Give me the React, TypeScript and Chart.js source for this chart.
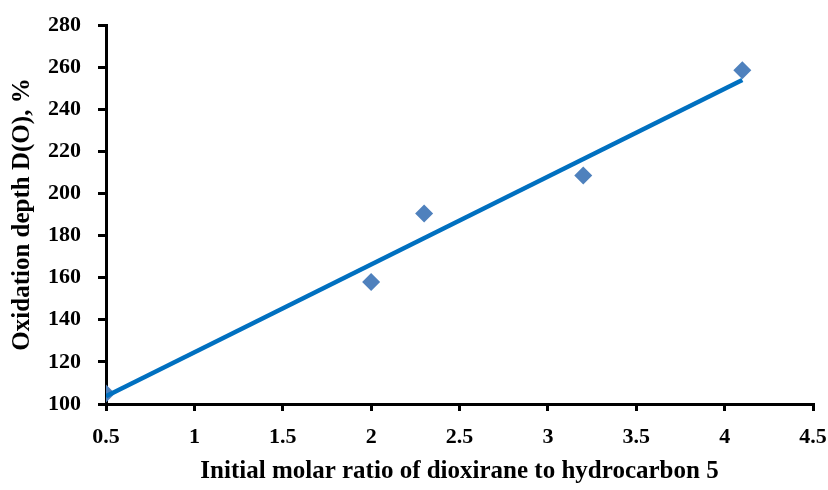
import React, { useEffect, useRef } from "react";
import { Chart, registerables } from "chart.js";

Chart.register(...registerables);

const ratioX = [0.5, 2.0, 2.3, 3.2, 4.1];
const depthY = [105, 158, 190.5, 208.5, 258.5];
const trendX = [0.5, 4.1];
const trendY = [103.7, 253.9];
const xTicks = [0.5, 1, 1.5, 2, 2.5, 3, 3.5, 4, 4.5];
const yTicks = [100, 120, 140, 160, 180, 200, 220, 240, 260, 280];

const xTitle = "Initial molar ratio of dioxirane to hydrocarbon 5";
const yTitle = "Oxidation depth D(O), %";

const FONT = "'Liberation Serif', 'DejaVu Serif', serif";

export default function App() {
  const ref = useRef<HTMLCanvasElement | null>(null);
  useEffect(() => {
    document.body.style.margin = "0";
    const canvas = ref.current!;
    const chart = new Chart(canvas, {
      type: "scatter",
      data: {
        datasets: [
          {
            type: "line",
            data: trendX.map((x, i) => ({ x, y: trendY[i] })),
            borderColor: "#0070C0",
            borderWidth: 4.5,
            pointRadius: 0,
            showLine: true,
            fill: false,
          } as any,
          {
            data: ratioX.map((x, i) => ({ x, y: depthY[i] })),
            pointStyle: "rectRot",
            pointRadius: 9,
            pointBackgroundColor: "#4F81BD",
            pointBorderColor: "#4F81BD",
            pointBorderWidth: 0,
          },
        ],
      },
      options: {
        animation: false,
        responsive: false,
        maintainAspectRatio: false,
        layout: { padding: { top: 25, right: 15, left: 0, bottom: 0 } },
        plugins: { legend: { display: false }, tooltip: { enabled: false } },
        scales: {
          x: {
            type: "linear",
            min: xTicks[0],
            max: xTicks[xTicks.length - 1],
            afterBuildTicks(scale: any) {
              scale.ticks = xTicks.map((v) => ({ value: v }));
            },
            ticks: {
              color: "#000",
              font: { family: FONT, size: 22, weight: "bold" },
              padding: 13,
              callback: (v: any) => String(v),
            },
            grid: { drawOnChartArea: false, drawTicks: true, tickLength: 7, color: "#000", lineWidth: 3 },
            border: { display: true, color: "#000", width: 3 },
            title: {
              display: true,
              text: xTitle,
              color: "#000",
              font: { family: FONT, size: 25, weight: "bold" },
              padding: { top: 0, bottom: 3 },
            },
            afterFit(scale: any) {
              scale.height = 86;
              scale.paddingRight = 15;
              scale.paddingLeft = 0;
            },
          },
          y: {
            type: "linear",
            min: yTicks[0],
            max: yTicks[yTicks.length - 1],
            afterBuildTicks(scale: any) {
              scale.ticks = yTicks.map((v) => ({ value: v }));
            },
            ticks: {
              color: "#000",
              font: { family: FONT, size: 22, weight: "bold" },
              padding: 17,
              callback: (v: any) => String(v),
            },
            grid: { drawOnChartArea: false, drawTicks: true, tickLength: 8, color: "#000", lineWidth: 3 },
            border: { display: true, color: "#000", width: 3 },
            title: {
              display: true,
              text: yTitle,
              color: "#000",
              font: { family: FONT, size: 25, weight: "bold" },
              padding: { top: 8, bottom: 0 },
            },
            afterFit(scale: any) {
              scale.width = 106;
              scale.paddingTop = 0;
              scale.paddingBottom = 0;
            },
          },
        },
      } as any,
    });
    return () => chart.destroy();
  }, []);
  return (
    <div style={{ position: "fixed", left: 0, top: 0, width: 828, height: 490, background: "#fff" }}>
      <canvas ref={ref} width={828} height={490} style={{ width: 828, height: 490 }} />
    </div>
  );
}
